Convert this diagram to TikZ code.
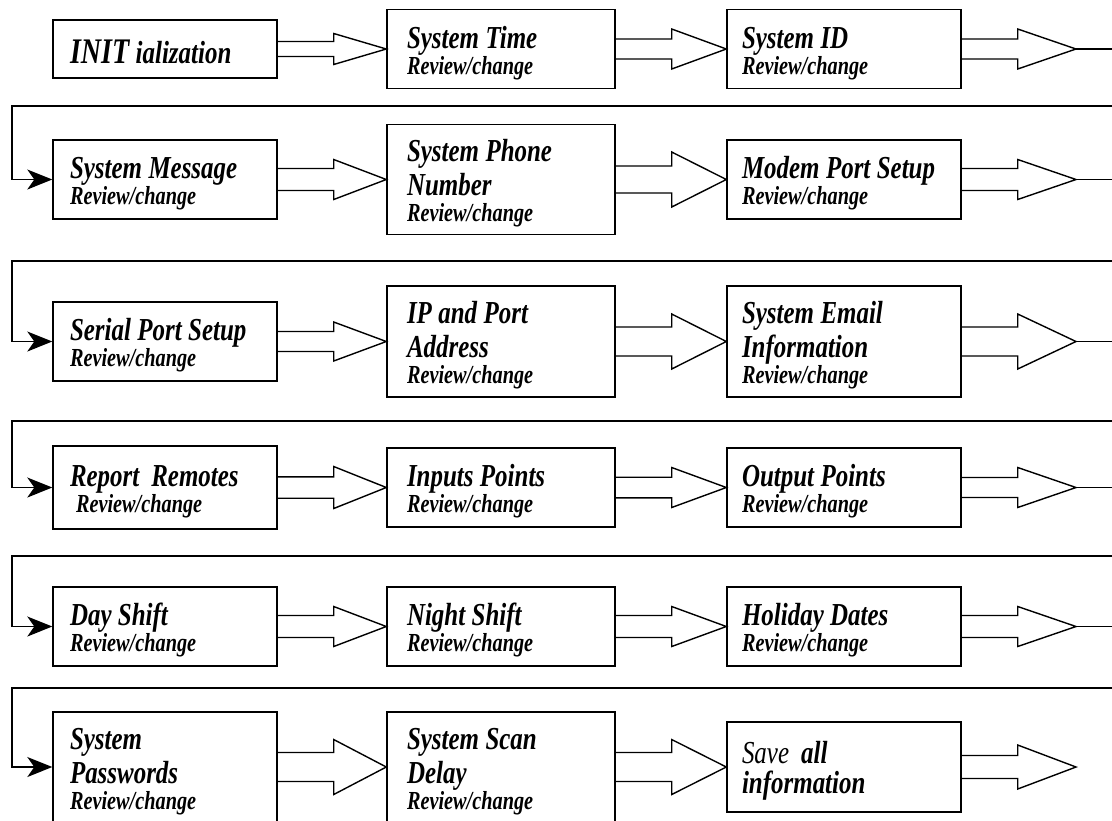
\documentclass[tikz,border=0pt]{standalone}
\usepackage{fontspec}
\usepackage{tikz}
\usetikzlibrary{arrows.meta,calc}
\newfontfamily\flowfont[FakeStretch=0.78]{Liberation Serif}
\newcommand{\rc}{\\[-4pt]{\fontsize{13}{13}\selectfont Review/change}}
% block arrow: from, tip, half shaft, half head (in px)
\newcommand{\blockarrow}[4]{%
  \draw[flow] ($(#1.east)+(0,-#3)$) -- ++(56,0) -- ++(0,{#3-#4}) -- (#2)
    -- ($(#1.east)+(56,#4)$) -- ++(0,{#3-#4}) -- ($(#1.east)+(0,#3)$);}

\begin{document}
\begin{tikzpicture}[x=0.5pt, y=-0.5pt,
    box/.style={draw, line width=0.7pt, align=left, inner ysep=0pt,
      font={\flowfont\bfseries\itshape\fontsize{16}{17}\selectfont},
      execute at begin node={\spaceskip=0.2em\relax\rule{0pt}{15pt}}},
    colone/.style={box, minimum width=112pt, inner xsep=8.5pt, text width=95pt},
    coltwo/.style={box, minimum width=114pt, inner xsep=10pt, text width=94pt},
    colthree/.style={box, minimum width=117pt, inner xsep=7.5pt, text width=102pt},
    flow/.style={line width=0.7pt},
    back/.style={flow, -{Stealth[length=12.5pt, width=10pt, inset=3.5pt]}}]
\useasboundingbox (0,0) rectangle (1112,820);

% row 1
\node[colone, minimum height=29pt, execute at begin node={\spaceskip=0.2em\relax}] (init) at (165,49) {{\fontsize{18}{18}\selectfont INIT} ialization};
\node[coltwo, minimum height=39.5pt] (stime) at (501,49) {System Time\rc};
\node[colthree, minimum height=39.5pt] (sid) at (844,49) {System ID\rc};
\coordinate (sidtip) at (1076,49);
\coordinate (r1end) at (1112,49);
\blockarrow{init}{stime.west}{7.5}{15.5}
\blockarrow{stime}{sid.west}{10}{20}
\blockarrow{sid}{sidtip}{10}{20}
\draw[flow] (sidtip) -- (r1end);

% row 2
\node[colone, minimum height=39.5pt] (smsg) at (165,179.5) {System Message\rc};
\node[coltwo, minimum height=55pt] (sphone) at (501,179.5) {System Phone\\Number\rc};
\node[colthree, minimum height=39.5pt] (modem) at (844,179.5) {Modem Port Setup\rc};
\coordinate (modemtip) at (1076,179.5);
\coordinate (r2end) at (1112,179.5);
\coordinate (r1back) at (1112,106);
\coordinate (r1left) at (12,106);
\draw[back] (r1back) -- (r1left) |- (smsg.west);
\blockarrow{smsg}{sphone.west}{11}{20}
\blockarrow{sphone}{modem.west}{13.5}{27.5}
\blockarrow{modem}{modemtip}{11}{20}
\draw[flow] (modemtip) -- (r2end);

% row 3
\node[colone, minimum height=39.5pt] (serial) at (165,341.5) {Serial Port Setup\rc};
\node[coltwo, minimum height=55.5pt] (ipport) at (501,341.5) {IP and Port\\Address\rc};
\node[colthree, minimum height=55.5pt] (email) at (844,341.5) {System Email\\Information\rc};
\coordinate (emailtip) at (1076,341.5);
\coordinate (r3end) at (1112,341.5);
\coordinate (r2back) at (1112,261);
\coordinate (r2left) at (12,261);
\draw[back] (r2back) -- (r2left) |- (serial.west);
\blockarrow{serial}{ipport.west}{10}{19.5}
\blockarrow{ipport}{email.west}{14.5}{27.5}
\blockarrow{email}{emailtip}{14.5}{27.5}
\draw[flow] (emailtip) -- (r3end);

% row 4
\node[colone, minimum height=41.5pt] (report) at (165,487.5) {Report\hspace{6pt}Remotes\\[-4pt]{\fontsize{13}{13}\selectfont\hspace*{3pt}Review/change}};
\node[coltwo, minimum height=39.5pt] (inputs) at (501,487.5) {Inputs Points\rc};
\node[colthree, minimum height=39.5pt] (outputs) at (844,487.5) {Output Points\rc};
\coordinate (outputstip) at (1076,487.5);
\coordinate (r4end) at (1112,487.5);
\coordinate (r3back) at (1112,421);
\coordinate (r3left) at (12,421);
\draw[back] (r3back) -- (r3left) |- (report.west);
\blockarrow{report}{inputs.west}{10.7}{21}
\blockarrow{inputs}{outputs.west}{10.3}{20}
\blockarrow{outputs}{outputstip}{10}{20}
\draw[flow] (outputstip) -- (r4end);

% row 5
\node[colone, minimum height=39.5pt] (day) at (165,626.5) {Day Shift\rc};
\node[coltwo, minimum height=39.5pt] (night) at (501,626.5) {Night Shift\rc};
\node[colthree, minimum height=39.5pt] (holiday) at (844,626.5) {Holiday Dates\rc};
\coordinate (holidaytip) at (1076,626.5);
\coordinate (r5end) at (1112,626.5);
\coordinate (r4back) at (1112,556);
\coordinate (r4left) at (12,556);
\draw[back] (r4back) -- (r4left) |- (day.west);
\blockarrow{day}{night.west}{11}{20}
\blockarrow{night}{holiday.west}{11}{20}
\blockarrow{holiday}{holidaytip}{11}{20}
\draw[flow] (holidaytip) -- (r5end);

% row 6
\node[colone, minimum height=55pt] (passwd) at (165,767) {System\\Passwords\rc};
\node[coltwo, minimum height=55pt] (scan) at (501,767) {System Scan\\Delay\rc};
\node[colthree, minimum height=45pt, execute at begin node={\spaceskip=0.2em\relax}] (save) at (844,767) {{\mdseries Save}\hspace{6pt}all\\[-2pt]information};
\coordinate (savetip) at (1076,767);
\coordinate (r5back) at (1112,688);
\coordinate (r5left) at (12,688);
\draw[back] (r5back) -- (r5left) |- (passwd.west);
\blockarrow{passwd}{scan.west}{14.5}{27.5}
\blockarrow{scan}{save.west}{14.5}{27.5}
\blockarrow{save}{savetip}{11.5}{22}
\end{tikzpicture}
\end{document}
